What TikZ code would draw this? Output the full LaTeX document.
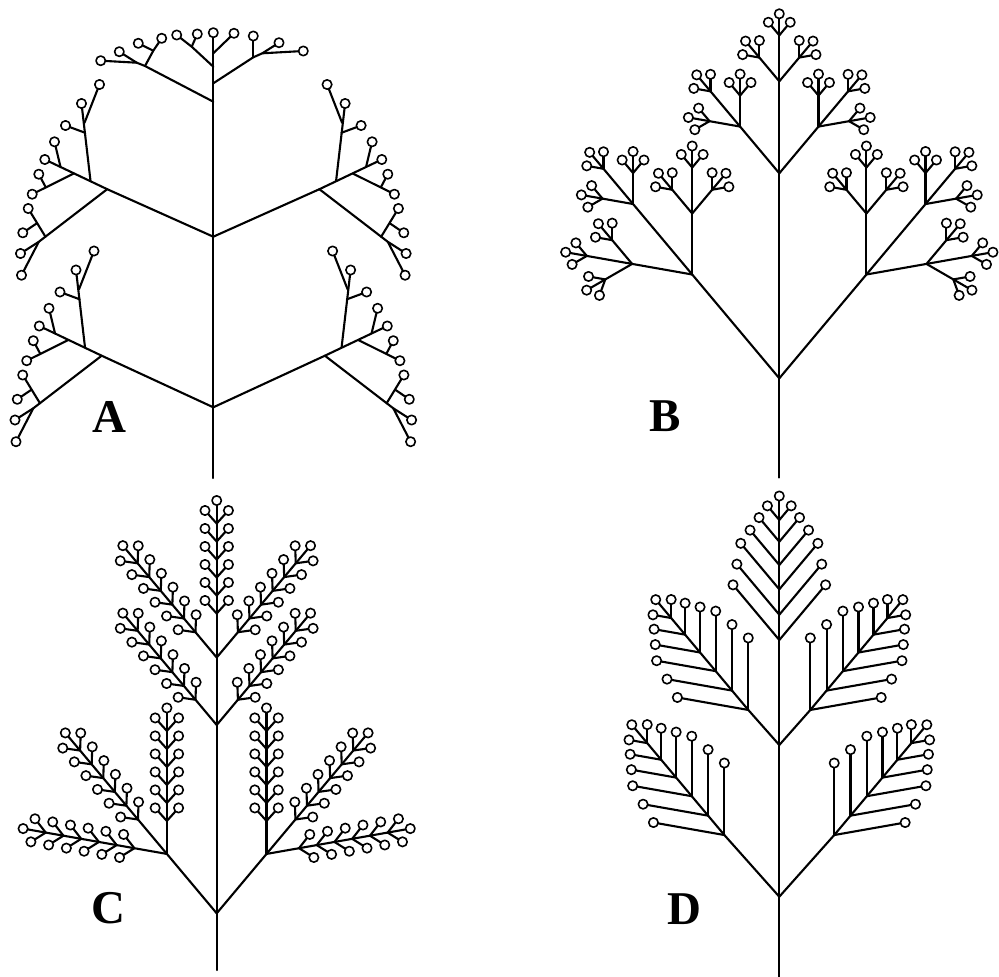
\documentclass[tikz,border=0pt]{standalone}
\usepackage{fontspec}
\setmainfont{Liberation Serif}
\tikzset{
  br/.style={line width=2.1pt, line cap=round, line join=round},
  lf/.style={circle, draw, fill=white, line width=1.6pt, minimum size=9.4pt, inner sep=0pt, outer sep=0pt},
  lab/.style={font=\fontsize{47}{47}\selectfont\bfseries, inner sep=0pt},
  acl/.pic={
    \draw[br] (0,0) -- (-62.4,-29.7) node[lf]{};
    \draw[br] (-46.7,-22.4) -- (-52.7,-47.4) node[lf]{};
    \draw[br] (-33.4,-15.7) -- (-75,5) node[lf]{};
    \draw[br] (-61.7,-2.4) -- (-68.4,-15) node[lf]{};
    \draw[br] (-16.7,-8.4) -- (-25.7,-85.7) node[lf]{};
    \draw[br] (-22.7,-66.4) -- (-7.7,-104.7) node[lf]{};
    \draw[br] (-22,-56.4) -- (-41.7,-63.7) node[lf]{};
    \draw[br] (0,0) -- (-68.4,52.6) -- (-86.7,64.3) node[lf]{};
    \draw[br] (-68.4,52.6) -- (-85.7,86) node[lf]{};
    \draw[br] (-61.7,47.6) -- (-79,19.3) node[lf]{};
    \draw[br] (-70.7,34.3) -- (-84.4,43.6) node[lf]{};
  }
}
\newcommand\cspike[3]{%
  \pgfmathsetmacro\csT{#3+100}%
  \draw[br] (#1) -- ++(#2:\csT pt) node[lf]{};
  \foreach \k in {0,...,5}{%
    \pgfmathsetmacro\csA{#3+18*\k-13}%
    \draw[br] (#1) ++(#2:\csA pt) coordinate (ca) -- ++(#2+42:17.5pt) node[lf]{};
    \draw[br] (ca) -- ++(#2-42:17.5pt) node[lf]{};
  }}
\newcommand\dspike[2]{%
  \draw[br] (#1) -- ++(#2:144pt) node[lf]{};
  \foreach \s/\L in {0/72, 25.3/66, 50.7/60, 75/45.5, 98.3/31.5, 120/18.5}{%
    \draw[br] (#1) ++(#2:\s pt) coordinate (da) -- ++(#2+40:\L pt) node[lf]{};
    \draw[br] (da) -- ++(#2-40:\L pt) node[lf]{};
  }}
\begin{document}
\begin{tikzpicture}[x=1pt,y=-1pt]
\useasboundingbox (0,0) rectangle (999,977);
% ================= A =================
\coordinate (Ab) at (213.3,478);
\draw[br] (Ab) -- (213.3,32.7) node[lf]{};
\draw[br] (213.3,407.3) -- (101.7,355.7);
\draw[br] (213.3,407.3) -- (324.9,355.7);
\draw[br] (213.3,236.7) -- (107.2,189.2);
\draw[br] (213.3,236.7) -- (319.4,189.2);
\pic at (101.7,355.7) {acl};
\pic[xscale=-1] at (324.9,355.7) {acl};
\pic at (107.2,189.2) {acl};
\pic[xscale=-1] at (319.4,189.2) {acl};
% top of A
\draw[br] (213.3,101.7) -- (145,66) -- (136.7,62.7) -- (100.7,60.7) node[lf]{};
\draw[br] (136.7,62.7) -- (119.3,51.7) node[lf]{};
\draw[br] (145,66) -- (153.3,50.7) -- (161.7,38.3) node[lf]{};
\draw[br] (153.3,50.7) -- (138.3,43.3) node[lf]{};
\draw[br] (213.3,83.3) -- (253.3,57.3) -- (262.3,53.3) -- (303.3,51) node[lf]{};
\draw[br] (253.3,57.3) -- (253.3,36) node[lf]{};
\draw[br] (262.3,53.3) -- (279,42.7) node[lf]{};
\draw[br] (213.3,66.7) -- (191.7,46.7) -- (176.7,35) node[lf]{};
\draw[br] (191.7,46.7) -- (197.3,34) node[lf]{};
\draw[br] (213.3,53.3) -- (234,33.3) node[lf]{};
\node[lab] (labA) at (109.3,417.2) {A};
% ================= B =================
\coordinate (Bb) at (779.3,477.5);
\coordinate (Bf) at (779.3,378.3);
\draw[br] (Bb) -- (Bf);
\foreach \a in {-40,0,40}{
  \pgfmathsetmacro\la{\a==0 ? 205 : 135.5}
  \pgfmathsetmacro\aa{90+\a}
  \draw[br] (Bf) -- ++(\aa:\la pt) coordinate (b1);
  \foreach \b in {-40,0,40}{
    \pgfmathsetmacro\lb{\b==0 ? 92 : 61}
    \pgfmathsetmacro\ab{\aa+\b}
    \draw[br] (b1) -- ++(\ab:\lb pt) coordinate (b2);
    \foreach \c in {-40,0,40}{
      \pgfmathsetmacro\lc{\c==0 ? 46 : 31}
      \pgfmathsetmacro\ac{\ab+\c}
      \draw[br] (b2) -- ++(\ac:\lc pt) coordinate (b3);
      \foreach \d in {-40,0,40}{
        \pgfmathsetmacro\ld{\d==0 ? 21.5 : 17}
        \pgfmathsetmacro\ad{\ac+\d}
        \draw[br] (b3) -- ++(\ad:\ld pt) node[lf]{};
      }
    }
  }
}
\node[lab] (labB) at (664.7,415.8) {B};
% ================= C =================
\coordinate (Cb) at (216.7,970);
\coordinate (Cf) at (216.7,913.3);
\coordinate (Ck1) at (216.7,725);
\coordinate (Ck2) at (216.7,657.5);
\draw[br] (Cb) -- (Cf) -- (Ck1) -- (Ck2);
\draw[br] (Cf) -- ++(130:77.5pt) coordinate (Cl);
\draw[br] (Cf) -- ++(50:77.5pt) coordinate (Cr);
\cspike{Ck1}{130}{46}
\cspike{Ck1}{50}{46}
\cspike{Ck2}{130}{46}
\cspike{Ck2}{50}{46}
\cspike{Ck2}{90}{57}
\cspike{Cl}{130}{58}
\cspike{Cl}{90}{46}
\cspike{Cl}{170}{46}
\cspike{Cr}{50}{58}
\cspike{Cr}{90}{46}
\cspike{Cr}{10}{46}
\node[lab] (labC) at (108.7,908.3) {C};
% ================= D =================
\coordinate (Db) at (779.3,976.7);
\coordinate (Df) at (779.3,896.7);
\coordinate (Dk) at (779.3,745);
\coordinate (Dt) at (779.3,640);
\draw[br] (Db) -- (Df) -- (Dk) -- (Dt);
\draw[br] (Df) -- ++(131.7:82.6pt) coordinate (Dl);
\draw[br] (Df) -- ++(48.3:82.6pt) coordinate (Dr);
\draw[br] (Dk) -- ++(131.5:46.8pt) coordinate (Dul);
\draw[br] (Dk) -- ++(48.5:46.8pt) coordinate (Dur);
\dspike{Dt}{90}
\dspike{Dl}{130}
\dspike{Dr}{50}
\dspike{Dul}{130}
\dspike{Dur}{50}
\node[lab] (labD) at (684.2,908.7) {D};
\end{tikzpicture}
\end{document}
